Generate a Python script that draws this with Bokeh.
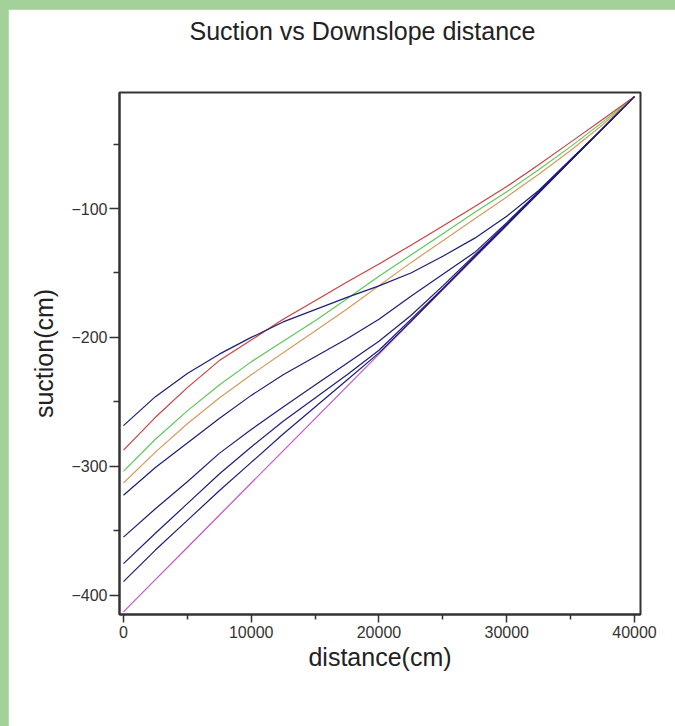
from bokeh.plotting import figure
from bokeh.models import Range1d, FixedTicker, Title
from bokeh.layouts import column
from bokeh.embed import file_html
from bokeh.resources import INLINE

# ---- data ----
distance = [0, 2500, 5000, 7500, 10000, 12500, 15000, 17500, 20000,
            22500, 25000, 27500, 30000, 32500, 35000, 37500, 40000]

navy_top = [-268.5, -246, -228, -213, -200, -188, -178.5, -169, -160,
            -150, -137, -123, -106, -86, -62, -38, -13]
red_curve = [-287.5, -262, -239, -218, -202, -186, -171.5, -157, -143,
             -128.5, -113.5, -98.5, -83, -66, -48.5, -31, -13]
green_curve = [-304, -279, -257, -237, -219, -203, -187, -170, -152.5,
               -136, -119.5, -103, -87, -70, -52, -33, -13]
orange_curve = [-313, -289, -267, -247, -229, -212, -195, -178, -160,
                -142, -125, -108, -91, -73.5, -55, -35, -13]
navy_5 = [-322.5, -301, -282, -263, -245, -229, -215, -201, -186,
          -168, -151, -134, -111, -87, -62.5, -38, -13]
navy_6 = [-355, -333, -312, -290, -271.5, -254, -237, -220, -203,
          -183, -160, -136, -112, -87.5, -62.5, -38, -13]
navy_7 = [-375.5, -352, -329, -306, -285, -265, -247, -229, -210,
          -186, -162, -137, -112.5, -87.5, -62.5, -38, -13]
navy_8 = [-389.5, -365, -342, -319, -297, -275, -254, -233, -212,
          -187.5, -162.5, -137.5, -113, -88, -63, -38, -13]
magenta_line = [-413, -388, -363, -338, -313, -288, -263, -238, -213,
                -188, -163, -138, -113, -88, -63, -38, -13]

x_ticks = [0, 10000, 20000, 30000, 40000]
y_ticks = [-400, -300, -200, -100]

series = [
    (magenta_line, "#c455c4"),
    (navy_8, "#1d1d78"),
    (navy_7, "#1d1d78"),
    (navy_6, "#1d1d78"),
    (navy_5, "#1d1d78"),
    (orange_curve, "#d69a5e"),
    (green_curve, "#5cc85c"),
    (red_curve, "#cc4040"),
    (navy_top, "#1d1d78"),
]

FONT = "Liberation Sans"

p = figure(width=667, height=717, output_backend="svg", toolbar_location=None,
           x_range=Range1d(-310, 40470), y_range=Range1d(-415, -10),
           min_border_left=111, min_border_right=35,
           min_border_top=83, min_border_bottom=112)
p.margin = (9, 0, 0, 8)

for ys, col in series:
    p.line(distance, ys, line_color=col, line_width=1.2)

# spacer panel next to the frame, then the real title above it
spacer = Title(text=" ", text_font_size="1px", standoff=43)
p.add_layout(spacer, "above")
main_title = Title(text="Suction vs Downslope distance", text_font=FONT,
                   text_font_size="25px", text_font_style="normal",
                   text_color="#222222", align="left", offset=70,
                   vertical_align="top", standoff=0)
p.add_layout(main_title, "above")

p.background_fill_color = "white"
p.border_fill_color = "white"
p.xgrid.visible = False
p.ygrid.visible = False
p.outline_line_color = "#333333"
p.outline_line_width = 2

p.xaxis.ticker = FixedTicker(ticks=x_ticks, minor_ticks=[5000, 15000, 25000, 35000])
p.yaxis.ticker = FixedTicker(ticks=y_ticks, minor_ticks=[-350, -250, -150, -50])

for ax in (p.xaxis[0], p.yaxis[0]):
    ax.axis_line_color = "#333333"
    ax.axis_line_width = 2
    ax.major_tick_line_color = "#333333"
    ax.minor_tick_line_color = "#333333"
    ax.major_tick_line_width = 1.5
    ax.minor_tick_line_width = 1.5
    ax.major_tick_in = 0
    ax.minor_tick_in = 0
    ax.major_label_text_font = FONT
    ax.major_label_text_font_size = "16px"
    ax.major_label_text_color = "#333333"
    ax.axis_label_text_font = FONT
    ax.axis_label_text_font_size = "25px"
    ax.axis_label_text_font_style = "normal"
    ax.axis_label_text_color = "#222222"

p.xaxis.axis_label = "distance(cm)"
p.yaxis.axis_label = "suction(cm)"
p.xaxis.major_tick_out = 8
p.xaxis.minor_tick_out = 5
p.yaxis.major_tick_out = 10
p.yaxis.minor_tick_out = 6
p.xaxis.major_label_standoff = 3
p.yaxis.major_label_standoff = 2
p.xaxis.axis_label_standoff = 2
p.yaxis.axis_label_standoff = 10

layout = column(p, styles={"background-color": "#a4d09a"})

html = file_html(layout, INLINE)
html = html.replace("<body", '<body style="margin:0;background-color:#a4d09a"', 1)
open("out.html", "w").write(html)
